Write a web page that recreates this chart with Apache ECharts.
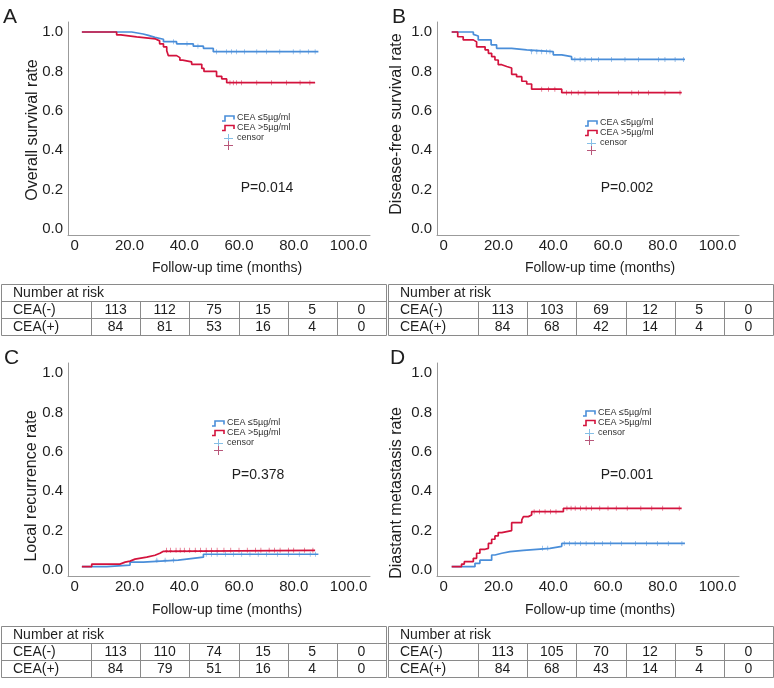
<!DOCTYPE html>
<html><head><meta charset="utf-8">
<script src="https://cdn.jsdelivr.net/npm/echarts@6/dist/echarts.min.js"></script>
<style>html,body{margin:0;padding:0;background:#fff}#c{width:774px;height:688px}</style>
</head><body><div id="c"></div>
<script>
// ---------- data ----------
const xTicks = [0, 20, 40, 60, 80, 100];
const yTicks = [0, 0.2, 0.4, 0.6, 0.8, 1.0];
const panelLetters = ['A', 'B', 'C', 'D'];
const yTitles = ['Overall survival rate', 'Disease-free survival rate', 'Local recurrence rate', 'Diastant metastasis rate'];
const xTitle = 'Follow-up time (months)';
const pValues = ['P=0.014', 'P=0.002', 'P=0.378', 'P=0.001'];
const groupNames = ['CEA \u22645\u00b5g/ml', 'CEA >5\u00b5g/ml'];
const censorLabel = 'censor';
const riskHeader = 'Number at risk';
const riskRowLabels = ['CEA(-)', 'CEA(+)'];

// number at risk (0,20,40,60,80,100 months)
const riskOS_neg = [113, 112, 75, 15, 5, 0];
const riskOS_pos = [84, 81, 53, 16, 4, 0];
const riskDFS_neg = [113, 103, 69, 12, 5, 0];
const riskDFS_pos = [84, 68, 42, 14, 4, 0];
const riskLR_neg = [113, 110, 74, 15, 5, 0];
const riskLR_pos = [84, 79, 51, 16, 4, 0];
const riskDM_neg = [113, 105, 70, 12, 5, 0];
const riskDM_pos = [84, 68, 43, 14, 4, 0];

// step curves: [month, value after the step]
const osNeg = [[2.6,1.0],[20.8,0.99],[25.0,0.983],[26.9,0.973],[29.3,0.963],[32.4,0.951],[37.2,0.94],[43.3,0.928],[47.0,0.917],[50.6,0.90],[89.0,0.90]];
const osPos = [[2.6,1.0],[15.3,0.985],[16.8,0.975],[22.6,0.965],[29.5,0.955],[31.0,0.94],[32.4,0.925],[33.6,0.905],[34.2,0.88],[37.2,0.87],[38.4,0.857],[39.4,0.848],[42.7,0.836],[46.4,0.815],[47.2,0.80],[51.8,0.775],[53.7,0.762],[55.5,0.743],[87.8,0.743]];
const dfsNeg = [[2.9,1.0],[10.8,0.988],[11.4,0.98],[12.6,0.96],[17.3,0.935],[19.3,0.917],[24.8,0.909],[30.3,0.90],[40.0,0.884],[43.1,0.875],[46.7,0.861],[88.1,0.861]];
const dfsPos = [[2.9,1.0],[5.1,0.976],[7.1,0.96],[10.8,0.95],[12.0,0.925],[15.1,0.909],[16.3,0.892],[17.5,0.875],[18.7,0.858],[19.9,0.834],[21.2,0.825],[23.0,0.817],[24.8,0.785],[26.6,0.773],[28.5,0.75],[30.3,0.736],[32.1,0.71],[43.1,0.692],[86.9,0.692]];
const lrNeg = [[2.6,0.017],[11.7,0.025],[20.2,0.04],[25.0,0.05],[37.8,0.055],[40.9,0.065],[47.0,0.08],[89.0,0.08]];
const lrPos = [[2.6,0.017],[6.2,0.03],[16.5,0.04],[18.4,0.045],[20.2,0.055],[22.0,0.065],[26.3,0.075],[29.3,0.085],[31.1,0.095],[32.4,0.10],[87.8,0.10]];
const dmNeg = [[2.9,0.017],[11.4,0.034],[13.2,0.05],[17.5,0.076],[18.7,0.085],[21.2,0.093],[24.2,0.10],[29.1,0.11],[38.8,0.12],[43.1,0.135],[88.1,0.135]];
const dmPos = [[2.9,0.017],[6.5,0.03],[7.5,0.042],[10.8,0.059],[12.0,0.085],[13.2,0.105],[15.1,0.11],[16.3,0.135],[17.5,0.156],[18.7,0.173],[19.9,0.19],[21.2,0.20],[24.8,0.24],[28.5,0.254],[29.1,0.271],[30.9,0.279],[32.1,0.296],[43.7,0.313],[86.9,0.313]];

// censored times (months)
const osNegCens = [36, 41, 45, 51.8, 55.5, 57.3, 59.1, 62, 66.5, 70, 74.9, 79.8, 82.3, 85.3, 87.8];
const osPosCens = [56.7, 57.9, 59.1, 60.9, 66.5, 71.9, 77.4, 82.3, 85.9];
const dfsNegCens = [32.1, 34.0, 35.8, 37.6, 38.8, 47.9, 49.8, 51.6, 54.0, 56.5, 61.3, 66.2, 71.1, 78.4, 80.8, 84.5, 87.5];
const dfsPosCens = [35.8, 38.3, 40.6, 44.9, 46.7, 49.1, 51.6, 56.5, 63.8, 68.7, 71.1, 74.8, 80.8, 86.3];
const lrNegCens = [30, 33, 36, 48, 50, 52, 55, 58, 61, 64, 67, 70, 74, 78, 82, 86, 88];
const lrPosCens = [33.5, 35, 37, 38.5, 40, 42, 44, 46, 48, 50, 52, 54.5, 57, 60, 63, 66, 68, 71, 73, 75, 78, 80, 84, 87];
const dmNegCens = [36, 38, 44, 46, 48, 50, 52, 55, 58, 61, 65, 70, 74, 78, 82, 87];
const dmPosCens = [33, 35, 37, 39, 41, 45, 46.5, 48, 50, 52, 54, 57, 60, 63, 67, 72, 76, 80, 86];

// ---------- build ----------
const FONT = '"Liberation Sans", Arial, Helvetica, sans-serif';
const BLUE = '#4a8ed9';
const RED = '#d3133d';
const BLUE_C = '#86bfe6';
const RED_C = '#b8577a';
const AXIS = '#9b9b9b';
const TXT = '#1e1e1e';

const curves = [[osNeg, osPos], [dfsNeg, dfsPos], [lrNeg, lrPos], [dmNeg, dmPos]];
const cens = [[osNegCens, osPosCens], [dfsNegCens, dfsPosCens], [lrNegCens, lrPosCens], [dmNegCens, dmPosCens]];
const risks = [[riskOS_neg, riskOS_pos], [riskDFS_neg, riskDFS_pos], [riskLR_neg, riskLR_pos], [riskDM_neg, riskDM_pos]];

const grids = [
  {left: 68, top: 22}, {left: 437, top: 22}, {left: 68, top: 363}, {left: 437, top: 363}
];
const GW = 302, GH = 213;
const XMIN = -2.47, XMAX = 107.85, YMIN = -0.0305, YMAX = 1.0508;

function stepAt(curve, t) {
  let v = curve[0][1];
  for (const p of curve) { if (p[0] <= t) v = p[1]; }
  return v;
}

const option = {
  animation: false,
  backgroundColor: '#fff',
  grid: grids.map(g => ({left: g.left, top: g.top, width: GW, height: GH, containLabel: false})),
  xAxis: grids.map((g, i) => ({
    type: 'value', gridIndex: i, min: XMIN, max: XMAX,
    axisLine: {show: true, onZero: false, lineStyle: {color: AXIS, width: 1}},
    axisTick: {show: false}, splitLine: {show: false},
    axisLabel: {customValues: xTicks, formatter: v => v === 0 ? '0' : v.toFixed(1),
      fontSize: 15, color: TXT, margin: 3, fontFamily: FONT}
  })),
  yAxis: grids.map((g, i) => ({
    type: 'value', gridIndex: i, min: YMIN, max: YMAX,
    axisLine: {show: true, onZero: false, lineStyle: {color: AXIS, width: 1}},
    axisTick: {show: false}, splitLine: {show: false},
    axisLabel: {customValues: yTicks, formatter: v => v.toFixed(1),
      fontSize: 15, color: TXT, margin: 5, fontFamily: FONT}
  })),
  series: [],
  graphic: {elements: []}
};

curves.forEach((pair, i) => {
  [0, 1].forEach(k => {
    option.series.push({
      type: 'line', xAxisIndex: i, yAxisIndex: i, step: 'end', symbol: 'none',
      data: pair[k], lineStyle: {color: k ? RED : BLUE, width: 1.7}, z: k ? 4 : 3, silent: true
    });
  });
  [0, 1].forEach(k => {
    option.series.push({
      type: 'scatter', xAxisIndex: i, yAxisIndex: i,
      symbol: 'path://M2,0H3V4H5V5H3V9H2V5H0V4H2Z', symbolSize: [3, 5],
      data: cens[i][k].map(t => [t, stepAt(pair[k], t)]),
      itemStyle: {color: k ? RED : BLUE, opacity: 0.85}, z: k ? 6 : 5, silent: true
    });
  });
});

const G = option.graphic.elements;
function txt(x, y, s, size, opts) {
  G.push(Object.assign({type: 'text', x: x, y: y, silent: true,
    style: Object.assign({text: s, font: size + 'px ' + FONT, fill: TXT,
      textAlign: 'left', textVerticalAlign: 'middle', align: 'left', verticalAlign: 'middle'}, (opts && opts.style) || {})},
    (opts && opts.el) || {}));
}
function line(x1, y1, x2, y2, color, w) {
  G.push({type: 'line', silent: true, shape: {x1, y1, x2, y2}, style: {stroke: color, lineWidth: w || 1}});
}

// panel letters
const letterPos = [[3, 17], [392, 17], [4, 358], [390, 358]];
panelLetters.forEach((l, i) => txt(letterPos[i][0], letterPos[i][1], l, 21));

// y titles (rotated)
const yTitlePos = [[33, 130], [397, 124], [32, 486], [397, 493]];
yTitles.forEach((t, i) => txt(yTitlePos[i][0], yTitlePos[i][1], t, 16,
  {el: {rotation: Math.PI / 2}, style: {x: 0, y: 0, textAlign: 'center', align: 'center'}}));

// x titles
const xTitlePos = [[227, 268], [600, 268], [227, 610], [600, 610]];
xTitlePos.forEach(p => txt(p[0], p[1], xTitle, 14, {style: {textAlign: 'center', align: 'center'}}));

// p values
const pPos = [[267, 188], [627, 188], [258, 475], [627, 475]];
pValues.forEach((p, i) => txt(pPos[i][0], pPos[i][1], p, 14, {style: {textAlign: 'center', align: 'center'}}));

// legends
const legPos = [[222, 118], [585, 123], [212, 423], [583, 413]];
legPos.forEach(p => {
  const x = p[0], y = p[1];
  [0, 1].forEach(k => {
    const yy = y + k * 9.5;
    G.push({type: 'polyline', silent: true,
      shape: {points: [[x, yy + 3], [x + 3, yy + 3], [x + 3, yy - 2], [x + 12, yy - 2], [x + 12, yy + 1.5]]},
      style: {stroke: k ? RED : BLUE, lineWidth: 1.6, fill: null}});
    txt(x + 15, yy, groupNames[k], 9, {style: {fill: '#333'}});
  });
  [0, 1].forEach(k => {
    const yy = y + (k ? 27 : 20);
    line(x + 2, yy + 0.5, x + 11, yy + 0.5, k ? RED_C : BLUE_C, 1);
    line(x + 6.5, yy - 4, x + 6.5, yy + 5, k ? RED_C : BLUE_C, 1);
  });
  txt(x + 15, y + 19.5, censorLabel, 9, {style: {fill: '#333'}});
});

// number-at-risk tables
const tablePos = [[1, 284], [388, 284], [1, 626], [388, 626]];
const TW = 385, LABW = 90, ROWH = 17;
const colW = (TW - LABW) / 6;
const TB = '#8a8a8a';
tablePos.forEach((p, i) => {
  const x = p[0] + 0.5, y = p[1] + 0.5;
  G.push({type: 'rect', silent: true, shape: {x: x, y: y, width: TW, height: ROWH * 3},
    style: {stroke: TB, fill: null, lineWidth: 1}});
  line(x, y + ROWH, x + TW, y + ROWH, TB);
  line(x, y + 2 * ROWH, x + TW, y + 2 * ROWH, TB);
  for (let c = 0; c < 6; c++) {
    const cx = Math.round(p[0] + LABW + c * colW) + 0.5;
    line(cx, y + ROWH, cx, y + 3 * ROWH, TB);
  }
  txt(p[0] + 12, p[1] + ROWH / 2 + 0.5, riskHeader, 14);
  [0, 1].forEach(r => {
    const cy = p[1] + ROWH * (r + 1.5) + 0.5;
    txt(p[0] + 12, cy, riskRowLabels[r], 14);
    risks[i][r].forEach((n, c) => {
      txt(p[0] + LABW + (c + 0.5) * colW, cy, String(n), 14, {style: {textAlign: 'center', align: 'center'}});
    });
  });
});

const chart = echarts.init(document.getElementById('c'), null, {renderer: 'canvas'});
chart.setOption(option);
</script>
</body></html>
